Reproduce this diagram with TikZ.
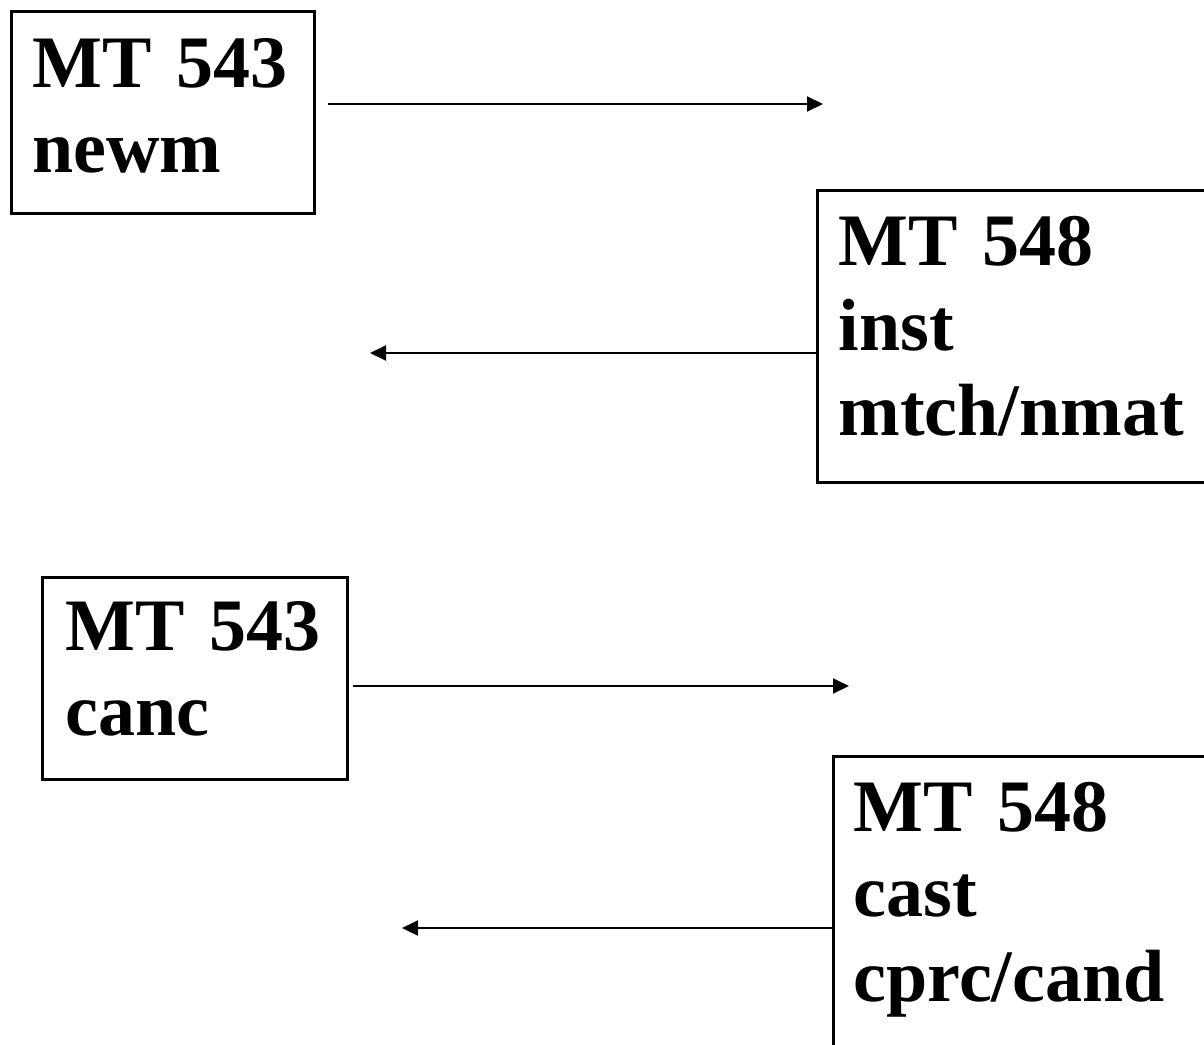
\documentclass[tikz,border=0pt]{standalone}
\usepackage{fontspec}
\setmainfont{Liberation Serif}
\usetikzlibrary{arrows.meta}
\tikzstyle{msgbox}=
[
	rectangle
	, draw=black
	, line width=3pt
	, fill=white
	, anchor=north west
	, align=left
	, inner xsep=21pt
	, inner ysep=0pt
	, font=\fontsize{74}{85}\selectfont\bfseries
]
\tikzstyle{arrow} = [line width=2pt,-{Triangle[length=16pt,width=15pt]}]

\begin{document}
\begin{tikzpicture}[x=1pt,y=-1pt]
\useasboundingbox (0,0) rectangle (1204,1044);

\node(newm)[msgbox, text width=261pt, text height=76pt, text depth=126pt] at (10,10) {MT 543\\newm};
\node(inst)[msgbox, text width=362pt, text height=75pt, text depth=217pt] at (816,189) {MT 548\\inst\\mtch/nmat};
\node(canc)[msgbox, inner xsep=23pt, text width=259pt, text height=73pt, text depth=129pt] at (41,576) {MT 543\\canc};
\node(cast)[msgbox, inner xsep=20pt, text width=348pt, text height=75pt, text depth=240pt] at (832,755) {MT 548\\cast\\cprc/cand};

\coordinate(newm out) at (328,104);
\coordinate(newm in) at (823,104);
\coordinate(inst in) at (370,353);
\coordinate(canc out) at (353,686);
\coordinate(canc in) at (849,686);
\coordinate(cast in) at (402,928);

\draw[arrow](newm out)--(newm in);
\draw[arrow](inst.west |- inst in)--(inst in);
\draw[arrow](canc out)--(canc in);
\draw[arrow](cast.west |- cast in)--(cast in);

\end{tikzpicture}
\end{document}
